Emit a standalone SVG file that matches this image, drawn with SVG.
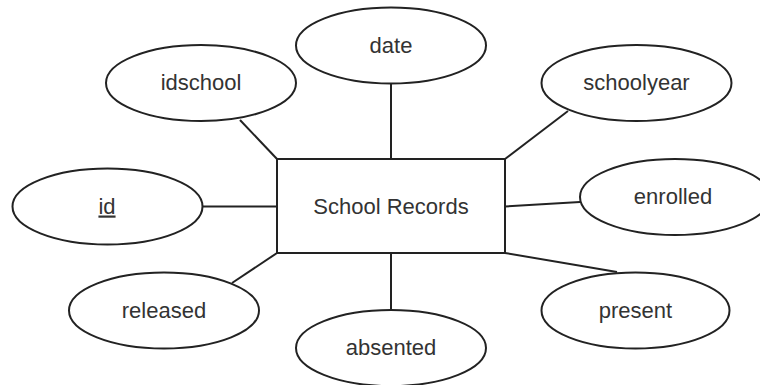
<svg xmlns="http://www.w3.org/2000/svg" width="760" height="385" viewBox="0 0 760 385">
  <style>
    .shape { fill: #ffffff; stroke: #222222; stroke-width: 2; }
    .edge { fill: none; stroke: #222222; stroke-width: 2; }
    .label { font-family: "Liberation Sans", Arial, sans-serif; font-size: 22px; fill: #333333; text-anchor: middle; }
  </style>
  <rect width="760" height="385" fill="#ffffff"/>

  <!-- connectors between the entity and its attributes -->
  <g id="connectors">
    <line class="edge" x1="240" y1="120" x2="277" y2="159"/>
    <line class="edge" x1="391" y1="83" x2="391" y2="159"/>
    <line class="edge" x1="568" y1="111" x2="505" y2="159"/>
    <line class="edge" x1="202" y1="206.5" x2="277" y2="206.5"/>
    <line class="edge" x1="505" y1="206.5" x2="580" y2="202"/>
    <line class="edge" x1="277" y1="253" x2="232" y2="283"/>
    <line class="edge" x1="391" y1="253" x2="391" y2="310"/>
    <line class="edge" x1="505" y1="253" x2="617" y2="272"/>
  </g>

  <!-- entity -->
  <g id="school-records">
    <rect class="shape" x="277" y="159" width="228" height="94"/>
    <text class="label" x="391" y="213.5">School Records</text>
  </g>

  <!-- attributes -->
  <g id="idschool">
    <ellipse class="shape" cx="201" cy="83" rx="95" ry="38"/>
    <text class="label" x="201" y="90">idschool</text>
  </g>
  <g id="date">
    <ellipse class="shape" cx="391" cy="45.5" rx="95" ry="38"/>
    <text class="label" x="391" y="52.5">date</text>
  </g>
  <g id="schoolyear">
    <ellipse class="shape" cx="636.5" cy="83" rx="95" ry="38"/>
    <text class="label" x="636.5" y="90">schoolyear</text>
  </g>
  <g id="id">
    <ellipse class="shape" cx="107.5" cy="206.5" rx="95" ry="38"/>
    <text class="label" x="107" y="213.5" text-decoration="underline">id</text>
  </g>
  <g id="enrolled">
    <ellipse class="shape" cx="675" cy="197" rx="95" ry="38"/>
    <text class="label" x="673" y="204">enrolled</text>
  </g>
  <g id="released">
    <ellipse class="shape" cx="164" cy="310.5" rx="95" ry="38"/>
    <text class="label" x="164" y="317.5">released</text>
  </g>
  <g id="absented">
    <ellipse class="shape" cx="391" cy="348" rx="95" ry="38"/>
    <text class="label" x="391" y="355">absented</text>
  </g>
  <g id="present">
    <ellipse class="shape" cx="635.5" cy="310.5" rx="94" ry="38"/>
    <text class="label" x="635.5" y="317.5">present</text>
  </g>
</svg>
